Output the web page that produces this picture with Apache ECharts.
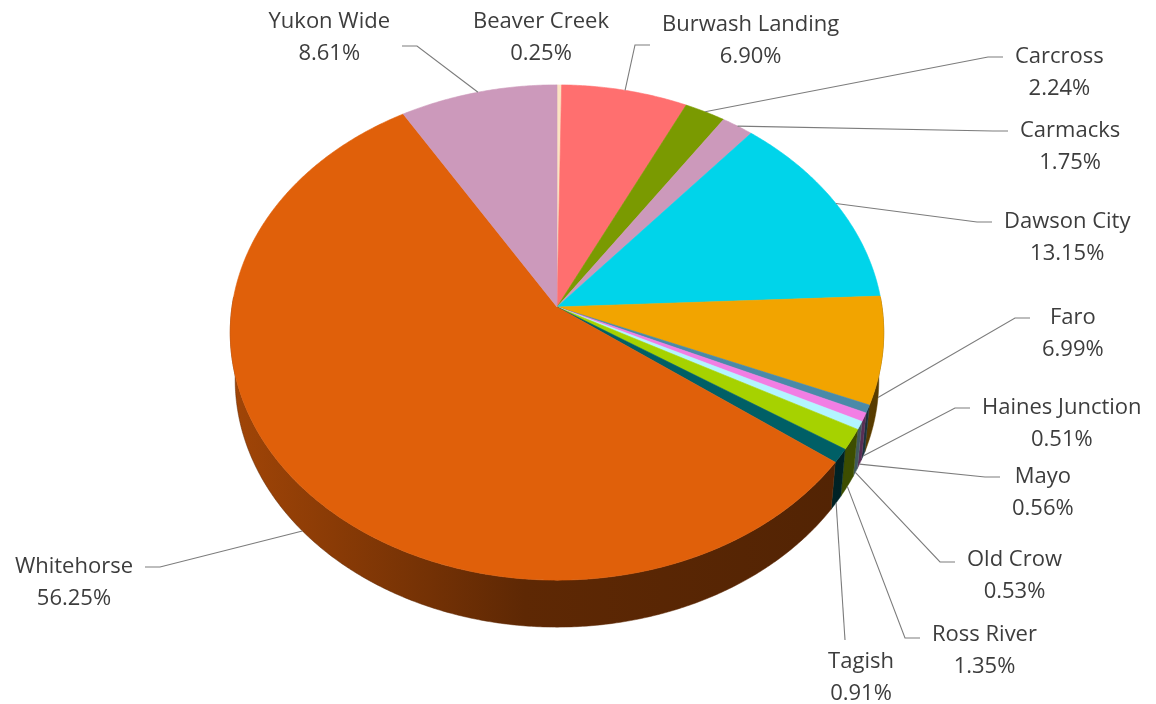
<!DOCTYPE html>
<html>
<head>
<meta charset="utf-8">
<script src="https://cdn.jsdelivr.net/npm/echarts@6/dist/echarts.min.js"></script>
<style>
  html, body { margin: 0; padding: 0; background: #fff; }
  #pie3d { width: 1156px; height: 704px; }
</style>
</head>
<body>
<div id="pie3d"></div>
<script>
// share of total, by community (percent)
const names = ['Beaver Creek', 'Burwash Landing', 'Carcross', 'Carmacks', 'Dawson City', 'Faro',
    'Haines Junction', 'Mayo', 'Old Crow', 'Ross River', 'Tagish', 'Whitehorse', 'Yukon Wide'];
const shares = [0.25, 6.90, 2.24, 1.75, 13.15, 6.99, 0.51, 0.56, 0.53, 1.35, 0.91, 56.25, 8.61];

const colors = ['#fbe3c2', '#ff6f6f', '#7a9a01', '#cc99bb', '#00d4ea', '#f2a400',
    '#4a8aa8', '#f27ee4', '#b3f5ff', '#a6d200', '#005f66', '#e0600a', '#cc99bb'];

// where each label sits (elbow of the leader line), side of the pie it hangs on
const labelSpots = {
    'Beaver Creek':    { side: 'c', x: 541, y: 22 },
    'Burwash Landing': { side: 'r', x: 635, y: 45, ty: 25 },
    'Carcross':        { side: 'r', x: 988, y: 57 },
    'Carmacks':        { side: 'r', x: 993, y: 131 },
    'Dawson City':     { side: 'r', x: 977, y: 222 },
    'Faro':            { side: 'r', x: 1015, y: 318 },
    'Haines Junction': { side: 'r', x: 955, y: 408 },
    'Mayo':            { side: 'r', x: 985, y: 477 },
    'Old Crow':        { side: 'r', x: 940, y: 562, ty: 560 },
    'Ross River':      { side: 'r', x: 905, y: 638, ty: 635 },
    'Tagish':          { side: 'b', x: 845, y: 640 },
    'Whitehorse':      { side: 'l', x: 160, y: 567 },
    'Yukon Wide':      { side: 'l', x: 417, y: 46, ty: 22 }
};

// pie geometry (perspective-tilted disc)
const cx = 557, cy = 307, rx = 325, ry = 245, persp = 0.103, depth = 47, botScale = 0.985;
const fontSize = 22, fontFamily = 'Open Sans', lineH = 32, textColor = '#3d3d3d', lineColor = '#7c7c7c';

const total = shares.reduce((a, b) => a + b, 0);
let startAng = [], endAng = [];
let acc = 0;
shares.forEach(v => {
    startAng.push(acc / total * Math.PI * 2);
    acc += v;
    endAng.push(acc / total * Math.PI * 2);
});

function topPt(t) {
    let u = Math.sin(t), v = Math.cos(t), w = 1 + persp * v;
    return [cx + rx * u / w, cy - ry * v / w];
}
function botPt(t) {
    let p = topPt(t);
    return [cx + (p[0] - cx) * botScale, p[1] + depth];
}
function arc(fn, a0, a1) {
    let n = Math.max(2, Math.ceil((a1 - a0) / 0.008));
    let pts = [];
    for (let k = 0; k <= n; k++) {
        pts.push(fn(a0 + (a1 - a0) * k / n));
    }
    return pts;
}
function shade(hex, f) {
    let n = parseInt(hex.slice(1), 16);
    let r = Math.round(((n >> 16) & 255) * f), g = Math.round(((n >> 8) & 255) * f), b = Math.round((n & 255) * f);
    return 'rgb(' + r + ',' + g + ',' + b + ')';
}

let measureCtx = document.createElement('canvas').getContext('2d');
measureCtx.font = fontSize + 'px "' + fontFamily + '"';
function textW(s) { return measureCtx.measureText(s).width; }

function renderWall(params, api) {
    let i = params.dataIndex;
    let lo = Math.max(startAng[i], Math.PI / 2 - 0.04);
    let hi = Math.min(endAng[i], Math.PI * 1.5 + 0.04);
    if (hi <= lo) return null;
    let pts = arc(topPt, lo, hi).concat(arc(botPt, lo, hi).reverse());
    let c = colors[i];
    return {
        type: 'polygon',
        shape: { points: pts },
        style: {
            fill: new echarts.graphic.LinearGradient(cx - rx, 0, cx + rx, 0, [
                { offset: 0, color: shade(c, 0.72) },
                { offset: 0.45, color: shade(c, 0.42) },
                { offset: 1, color: shade(c, 0.36) }
            ], true),
            stroke: shade(c, 0.42),
            lineWidth: 0.5
        }
    };
}

function renderTop(params, api) {
    let i = params.dataIndex;
    let pts = [[cx, cy]].concat(arc(topPt, startAng[i], endAng[i]));
    return {
        type: 'polygon',
        shape: { points: pts },
        style: { fill: colors[i], stroke: colors[i], lineWidth: 0.6 }
    };
}

function renderLabel(params, api) {
    let i = params.dataIndex;
    let name = names[i];
    let pct = shares[i].toFixed(2) + '%';
    let spot = labelSpots[name];
    let mid = (startAng[i] + endAng[i]) / 2;
    let anchor = Math.cos(mid) < 0 ? botPt(mid) : topPt(mid);
    let w = Math.max(textW(name), textW(pct));
    let children = [];
    let tx, ty = spot.ty !== undefined ? spot.ty : spot.y;
    let pts = null;
    if (spot.side === 'r') {
        pts = [anchor, [spot.x, spot.y], [spot.x + 15, spot.y]];
        tx = spot.x + 27 + w / 2;
    } else if (spot.side === 'l') {
        pts = [anchor, [spot.x, spot.y], [spot.x - 15, spot.y]];
        tx = spot.x - 27 - w / 2;
    } else if (spot.side === 'b') {
        pts = [anchor, [spot.x, spot.y]];
        tx = spot.x + 16;
        ty = spot.y + 22;
    } else {
        tx = spot.x;
    }
    if (pts) {
        children.push({
            type: 'polyline',
            shape: { points: pts },
            style: { stroke: lineColor, lineWidth: 1.1, fill: null }
        });
    }
    children.push({
        type: 'text',
        style: {
            text: name + '\n' + pct,
            x: tx,
            y: ty - lineH / 2,
            align: 'center',
            verticalAlign: 'top',
            lineHeight: lineH,
            fontSize: fontSize,
            fontFamily: fontFamily,
            fill: textColor
        }
    });
    return { type: 'group', children: children };
}

let chart = echarts.init(document.getElementById('pie3d'));
let option = {
    backgroundColor: '#ffffff',
    animation: false,
    series: [
        { type: 'custom', coordinateSystem: 'none', z: 1, data: shares, renderItem: renderWall, silent: true },
        { type: 'custom', coordinateSystem: 'none', z: 2, data: shares, renderItem: renderTop, silent: true },
        { type: 'custom', coordinateSystem: 'none', z: 3, data: shares, renderItem: renderLabel, silent: true }
    ]
};
chart.setOption(option);
</script>
</body>
</html>
